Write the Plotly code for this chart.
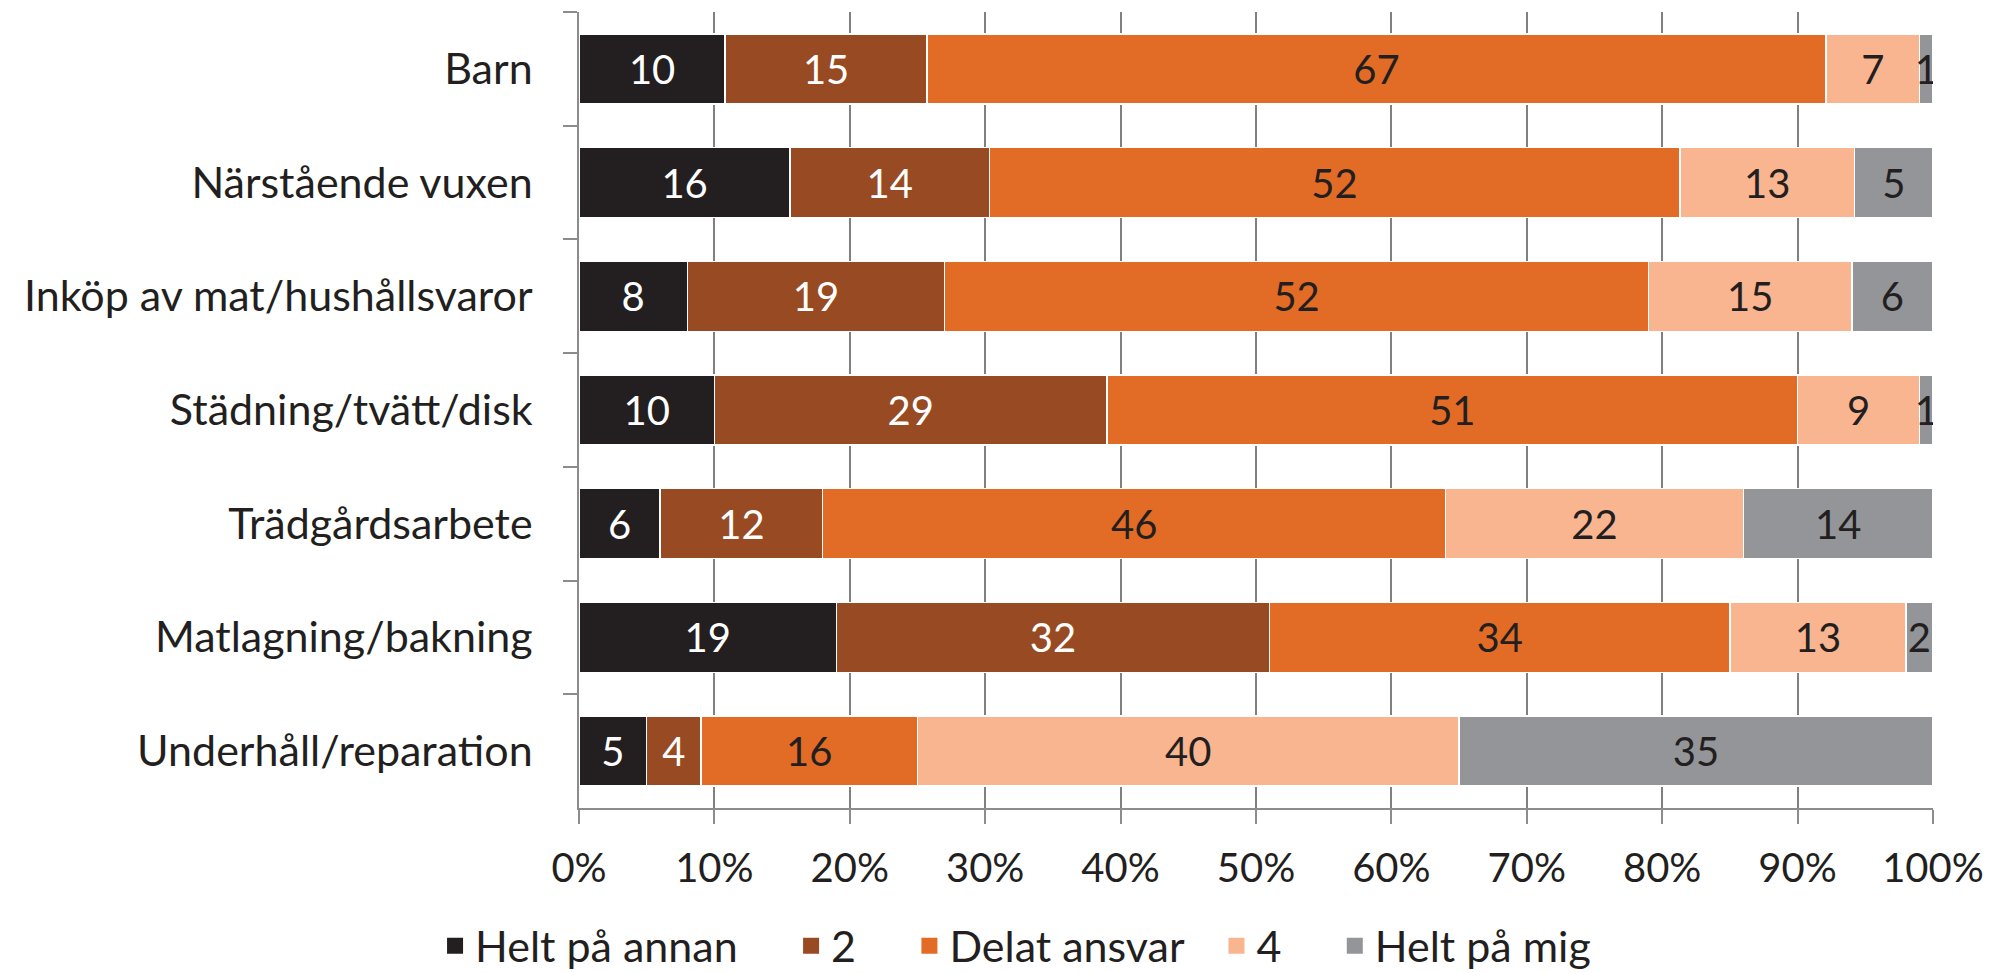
import plotly.graph_objects as go

categories = ["Barn", "Närstående vuxen", "Inköp av mat/hushållsvaror",
              "Städning/tvätt/disk", "Trädgårdsarbete", "Matlagning/bakning",
              "Underhåll/reparation"]
series_names = ["Helt på annan", "2", "Delat ansvar", "4", "Helt på mig"]

# bar lengths (percent of row)
helt_annan = [10.8, 15.6, 8, 10, 6, 19, 5]
two = [14.9, 14.7, 19, 29, 12, 32, 4]
delat = [66.4, 51.0, 52, 51, 46, 34, 16]
four = [6.9, 12.9, 15, 9, 22, 13, 40]
helt_mig = [1.0, 5.8, 6, 1, 14, 2, 35]

# numbers printed in the bars
lbl_helt_annan = ["10", "16", "8", "10", "6", "19", "5"]
lbl_two = ["15", "14", "19", "29", "12", "32", "4"]
lbl_delat = ["67", "52", "52", "51", "46", "34", "16"]
lbl_four = ["7", "13", "15", "9", "22", "13", "40"]
lbl_helt_mig = ["1", "5", "6", "1", "14", "2", "35"]

x_ticks = [0, 10, 20, 30, 40, 50, 60, 70, 80, 90, 100]
x_tick_text = [f"{v}%" for v in x_ticks]

colors = ["#231f20", "#984a22", "#e26c26", "#f8b590", "#939598"]
text_colors = ["#ffffff", "#ffffff", "#231f20", "#231f20", "#231f20"]

FONT = "Lato"
FS_NUM = 40
FS_TXT = 43

values = [helt_annan, two, delat, four, helt_mig]
labels = [lbl_helt_annan, lbl_two, lbl_delat, lbl_four, lbl_helt_mig]

fig = go.Figure()
for name, vals, lbls, c, tc in zip(series_names, values, labels, colors, text_colors):
    fig.add_trace(go.Bar(
        y=categories, x=vals, orientation="h", name=name,
        marker=dict(color=c, line=dict(color="#ffffff", width=1.5)),
        text=lbls, texttemplate="%{text}", textposition="inside",
        insidetextanchor="middle", constraintext="none",
        textfont=dict(color=tc, size=FS_NUM, family=FONT),
        showlegend=False, hoverinfo="skip",
    ))
# legend entries with larger square symbols (trailing spaces only widen spacing)
EN, THIN = "\u2002", "\u2009"
legend_pads = [EN + EN + THIN, EN + EN + THIN, EN + THIN, EN + EN + THIN, ""]
for name, c, p in zip(series_names, colors, legend_pads):
    fig.add_trace(go.Scatter(
        x=[None], y=[None], mode="markers", name=name + p,
        marker=dict(symbol="square", size=24, color=c),
        showlegend=True, hoverinfo="skip",
    ))

fig.update_layout(
    width=2011, height=973,
    barmode="stack", bargap=0.384,
    plot_bgcolor="#ffffff", paper_bgcolor="#ffffff",
    margin=dict(l=579, r=78, t=12, b=165),
    font=dict(family=FONT, size=FS_NUM, color="#231f20"),
    uniformtext=dict(mode="show", minsize=FS_NUM),
    legend=dict(orientation="h", x=0.505, xanchor="center", xref="container",
                y=0.028, yanchor="middle", yref="container",
                traceorder="normal",
                font=dict(size=FS_TXT, family=FONT, color="#231f20"),
                itemsizing="trace", tracegroupgap=0),
    xaxis=dict(range=[0, 100], tickvals=x_ticks, ticktext=x_tick_text,
               showgrid=True, gridcolor="#808080", gridwidth=1.5,
               showline=True, linecolor="#8c8c8c", linewidth=1.5,
               ticks="outside", ticklen=14, tickcolor="#8c8c8c", tickwidth=1.5,
               zeroline=False, ticklabelstandoff=10,
               tickfont=dict(size=FS_NUM)),
    yaxis=dict(autorange="reversed", type="category",
               showline=True, linecolor="#8c8c8c", linewidth=1.5,
               ticks="outside", ticklen=14, tickcolor="#8c8c8c", tickwidth=1.5,
               tickson="boundaries", showgrid=False, ticklabelstandoff=36,
               tickfont=dict(size=FS_TXT)),
)

fig.write_html("out.html", config={"displayModeBar": False},
               post_script="document.body.style.margin='0';")
